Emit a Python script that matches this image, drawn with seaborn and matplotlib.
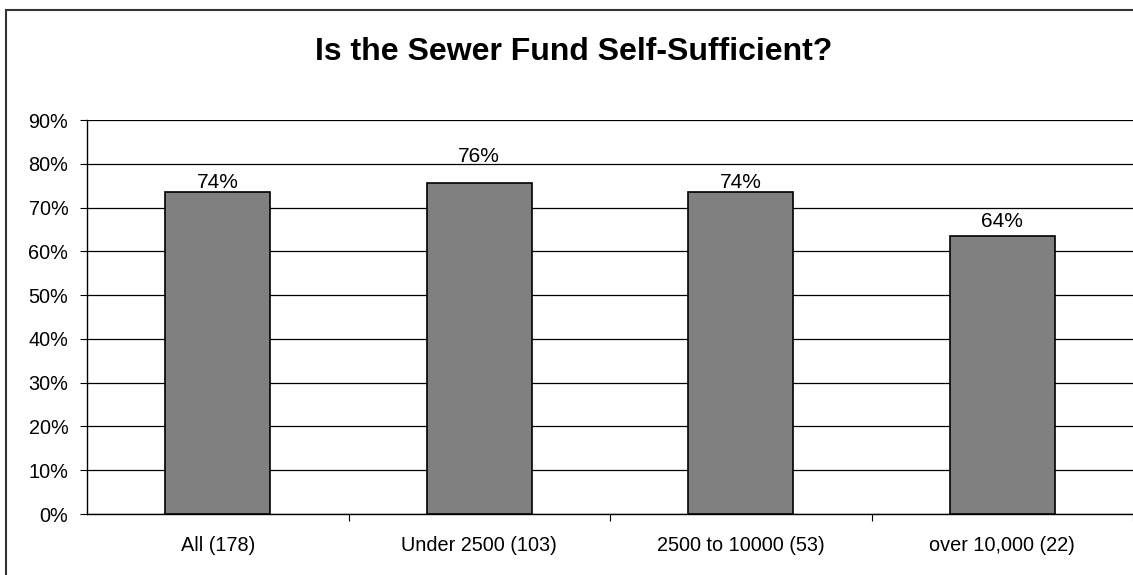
import matplotlib
matplotlib.use("Agg")
import matplotlib.pyplot as plt
from matplotlib.patches import Rectangle
import seaborn as sns
import pandas as pd

categories = ["All (178)", "Under 2500 (103)", "2500 to 10000 (53)", "over 10,000 (22)"]
values = [0.736, 0.756, 0.736, 0.636]
value_labels = ["74%", "76%", "74%", "64%"]
ytick_vals = [0.0, 0.1, 0.2, 0.3, 0.4, 0.5, 0.6, 0.7, 0.8, 0.9]
title = "Is the Sewer Fund Self-Sufficient?"

sns.set_theme(style="white")
plt.rcParams['font.family'] = ['Liberation Sans', 'DejaVu Sans']

fig = plt.figure(figsize=(11.33, 5.75), dpi=100)
ax = fig.add_axes([87/1133, 1-514/575, 1-87/1133, (514-120)/575])

df = pd.DataFrame({"cat": categories, "val": values})
sns.barplot(data=df, x="cat", y="val", color="#808080", edgecolor="black",
            linewidth=1.2, width=0.4, saturation=1, ax=ax, zorder=3)

ax.set_ylim(0, 0.9)
ax.set_xlim(-0.5, len(categories) - 0.5)
ax.set_yticks(ytick_vals)
ax.set_yticklabels([f"{int(round(v*100))}%" for v in ytick_vals], fontsize=14.3, color="black")
ax.yaxis.grid(True, color="black", linewidth=0.9, zorder=0)
ax.set_axisbelow(True)
ax.set_xlabel("")
ax.set_ylabel("")
ax.set_xticks(range(len(categories)))
ax.set_xticklabels(categories, fontsize=14.3, color="black")
ax.tick_params(axis="x", which="major", length=0, pad=16)
ax.set_xticks([i + 0.5 for i in range(len(categories))], minor=True)
ax.tick_params(axis="x", which="minor", length=5, width=0.8, color="black", direction="out", bottom=True)
ax.tick_params(axis="y", length=5, width=0.8, color="black", direction="out", left=True, pad=8.5)

for s in ["top", "right"]:
    ax.spines[s].set_visible(False)
for s in ["left", "bottom"]:
    ax.spines[s].set_color("black")
    ax.spines[s].set_linewidth(1.0)

label_offsets_px = [4, 21, 4, 9]
for i, (v, lab) in enumerate(zip(values, value_labels)):
    ax.annotate(lab, xy=(i, v), xytext=(0, label_offsets_px[i]), textcoords="offset pixels",
                ha="center", va="baseline", fontsize=15, color="black")

fig.text(574/1133, 1 - 60/575, title, ha="center", va="baseline", fontsize=23, fontweight="bold", color="black")

fig.patches.append(Rectangle((6/1133, -0.05), 1.1, 1 - 10/575 + 0.05, transform=fig.transFigure,
                             fill=False, edgecolor="#333333", linewidth=1.5))

fig.savefig("out.png", dpi=100)
